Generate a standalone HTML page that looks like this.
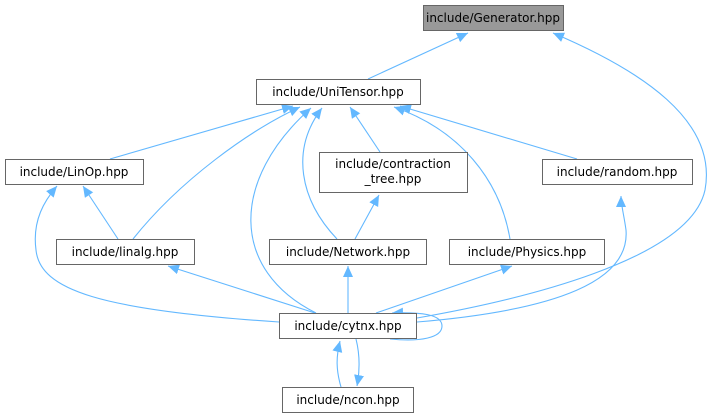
<!DOCTYPE html>
<html><head><meta charset="utf-8"><style>
html,body{margin:0;padding:0;background:#fff;width:716px;height:417px;overflow:hidden}
text{font-family:"DejaVu Sans","Liberation Sans",sans-serif;font-size:12px;fill:#000}
</style></head><body>
<svg width="716" height="417" viewBox="0 0 716 417" xmlns="http://www.w3.org/2000/svg">
<defs>
<marker id="a" markerUnits="userSpaceOnUse" markerWidth="12" markerHeight="12" refX="11" refY="5" orient="auto">
<path d="M0,0 L11,5 L0,10 Z" fill="#63b8ff"/>
</marker>
</defs>
<g fill="none" stroke="#63b8ff" stroke-width="1.1" marker-end="url(#a)">
<path d="M368,79 L468,33"/>
<path d="M417,318 C520,300 690,260 705,190 C718,120 640,70 553,33"/>
<path d="M110,159 L293,106"/>
<path d="M133,239 C180,180 250,130 300,107"/>
<path d="M316,313 C230,270 230,180 311,108"/>
<path d="M337,239 C300,200 290,150 322,108"/>
<path d="M380,152 L350,107"/>
<path d="M510,239 C500,180 460,130 394,107"/>
<path d="M577,159 L400,106"/>
<path d="M118,239 L83,186"/>
<path d="M279,322 C100,310 40,290 36,250 C32,220 45,200 57,186"/>
<path d="M315,313 L168,266"/>
<path d="M355,239 L379,195"/>
<path d="M348,313 L348,266"/>
<path d="M376,313 L512,266"/>
<path d="M417,322 C560,310 630,280 626,230 C624,215 621,205 621,196"/>
<path d="M390,339 C420,342 442,338 442,326 C442,314 420,312 392,313"/>
<path d="M341,387 C336,370 336,357 340,341"/>
<path d="M356,339 C360,355 360,370 357,386"/>
</g>
<g stroke="#666" stroke-width="1">
<rect x="423.5" y="5.5" width="140" height="25" fill="#999"/>
<rect x="256.5" y="79.5" width="164" height="25" fill="#fff"/>
<rect x="319.5" y="152.5" width="148" height="40" fill="#fff"/>
<rect x="542.5" y="159.5" width="150" height="25" fill="#fff"/>
<rect x="5.5" y="159.5" width="138" height="25" fill="#fff"/>
<rect x="56.5" y="239.5" width="138" height="25" fill="#fff"/>
<rect x="269.5" y="239.5" width="157" height="25" fill="#fff"/>
<rect x="449.5" y="239.5" width="155" height="25" fill="#fff"/>
<rect x="279.5" y="313.5" width="137" height="25" fill="#fff"/>
<rect x="282.5" y="387.5" width="131" height="25" fill="#fff"/>
</g>
<g text-anchor="middle">
<text x="493" y="22">include/Generator.hpp</text>
<text x="338" y="96">include/UniTensor.hpp</text>
<text x="393" y="168">include/contraction</text>
<text x="393" y="183">_tree.hpp</text>
<text x="617" y="176">include/random.hpp</text>
<text x="74" y="176">include/LinOp.hpp</text>
<text x="125" y="256">include/linalg.hpp</text>
<text x="348" y="256">include/Network.hpp</text>
<text x="527" y="256">include/Physics.hpp</text>
<text x="348" y="330">include/cytnx.hpp</text>
<text x="348" y="404">include/ncon.hpp</text>
</g>
</svg>
</body></html>
